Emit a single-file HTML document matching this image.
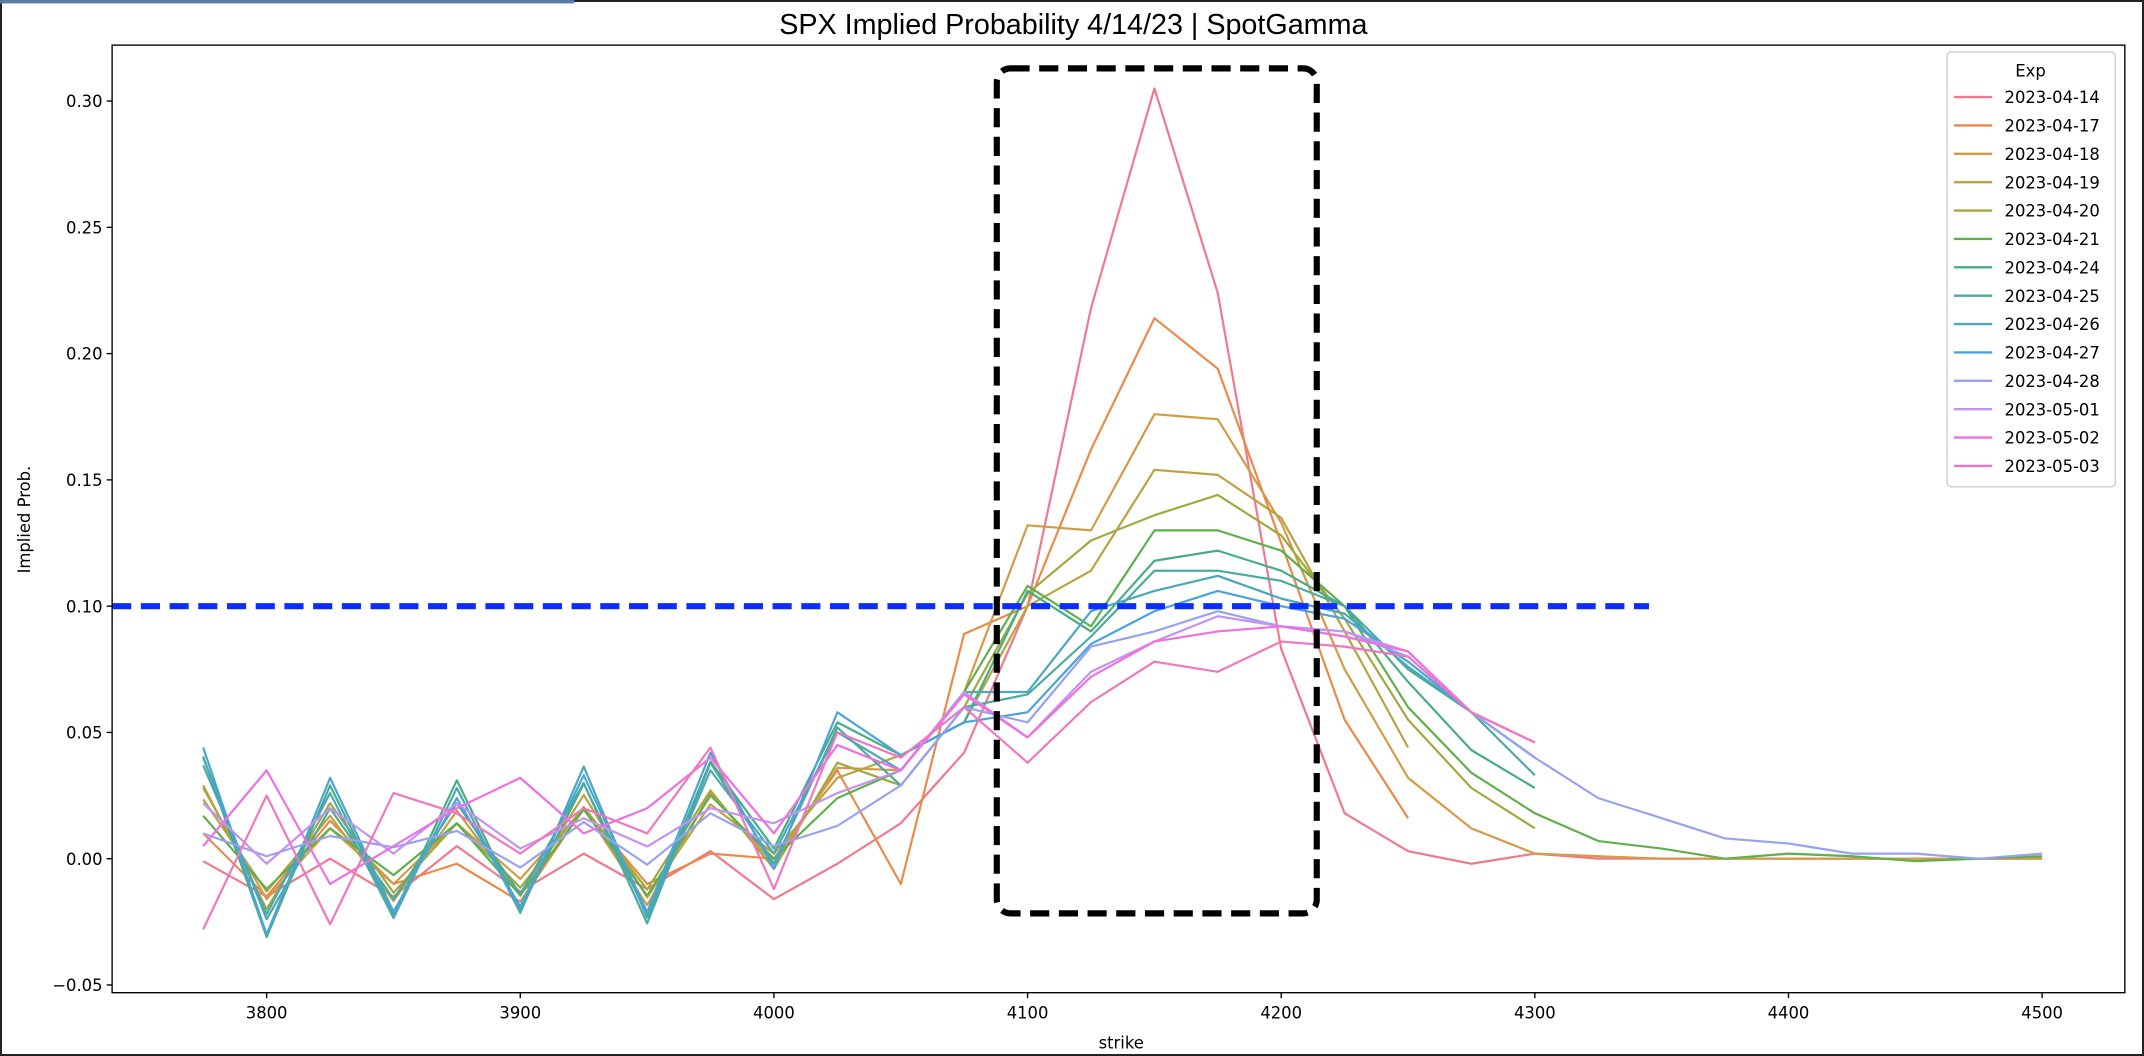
<!DOCTYPE html>
<html><head><meta charset="utf-8"><style>
html,body{margin:0;padding:0;background:#fff;}
svg{display:block;}
text{font-family:"DejaVu Sans","Liberation Sans",sans-serif;fill:#000;}
</style></head><body>
<svg id="s" width="2144" height="1056" viewBox="0 0 1568 772.3" preserveAspectRatio="none" xmlns="http://www.w3.org/2000/svg">
<rect x="0" y="0" width="1568" height="772.3" fill="#fff"/>
<rect x="0.7" y="0.7" width="1566.6" height="770.9" fill="none" stroke="#222" stroke-width="1.5"/>
<rect x="0" y="0" width="420" height="2.5" fill="#5a7aa6"/>
<text x="785" y="25" font-size="21" text-anchor="middle" style="font-family:'Liberation Sans',sans-serif">SPX Implied Probability 4/14/23 | SpotGamma</text>
<g id="ax"></g>
<g id="series" fill="none" stroke-width="1.6" stroke-linejoin="round"></g>
<line x1="82" y1="443.3" x2="1206" y2="443.3" stroke="#0a2eff" stroke-width="4.5" stroke-dasharray="14,7"/>
<rect x="729" y="50" width="234" height="618" rx="10" fill="none" stroke="#000" stroke-width="4.5" stroke-dasharray="14,7"/>
<rect x="82" y="33" width="1472" height="693" fill="none" stroke="#000" stroke-width="1"/>
<g id="leg"></g>
<text x="820" y="767" font-size="12" text-anchor="middle">strike</text>
<text x="22" y="380" font-size="12" text-anchor="middle" transform="rotate(-90 22 380)">Implied Prob.</text>
</svg>
<script>
var NS="http://www.w3.org/2000/svg";
function el(t,a,p,txt){var e=document.createElementNS(NS,t);for(var k in a)e.setAttribute(k,a[k]);if(txt!=null)e.textContent=txt;p.appendChild(e);return e;}
function X(s){return 195+(s-3800)*1.855;}
function Y(v){return 628-v*1847;}
var ax=document.getElementById('ax');
[3800,3900,4000,4100,4200,4300,4400,4500].forEach(function(s){var x=X(s);el('line',{x1:x,y1:726,x2:x,y2:730,stroke:'#000','stroke-width':1},ax);el('text',{x:x,y:745,'font-size':12,'text-anchor':'middle'},ax,String(s));});
[-0.05,0,0.05,0.1,0.15,0.2,0.25,0.3].forEach(function(v){var y=Y(v);el('line',{x1:78,y1:y,x2:82,y2:y,stroke:'#000','stroke-width':1},ax);el('text',{x:75,y:y+4.5,'font-size':12,'text-anchor':'end'},ax,(v<0?'\u22120.05':v.toFixed(2)));});
var strikes=[];for(var s=3775;s<=4500;s+=25)strikes.push(s);
var colors=['#f0798d','#e98a4b','#d49a45','#bba340','#a3a83e','#5eb04a','#47ae83','#4bab9c','#4aa8b8','#4ba3dc','#98a2f0','#c293f0','#ee70e2','#f077bf'];
var names=['2023-04-14','2023-04-17','2023-04-18','2023-04-19','2023-04-20','2023-04-21','2023-04-24','2023-04-25','2023-04-26','2023-04-27','2023-04-28','2023-05-01','2023-05-02','2023-05-03'];
var base=[0.03,-0.02,0.02,-0.015,0.02,-0.015,0.025,-0.018,0.03,0.0,0.04,0.035,0.06];
var amp=[0.5,0.6,0.8,0.85,0.9,0.7,1.35,1.2,1.3,1.4,0.3,0.4,0,0];
var off=[-0.012,-0.004,0,0,0,0,0,0,0,0,0.005,0.01,0,0];
var right=[
 [0.10,0.218,0.305,0.224,0.083,0.018,0.003,-0.002,0.002,0,0,0,0,0,0,0,0,0],
 [0.10,0.162,0.214,0.194,0.125,0.055,0.016],
 [0.132,0.130,0.176,0.174,0.133,0.075,0.032,0.012,0.002,0.001,0,0,0,0,0,0,0,0],
 [0.10,0.114,0.154,0.152,0.135,0.09,0.044],
 [0.105,0.126,0.136,0.144,0.128,0.095,0.055,0.028,0.012],
 [0.108,0.092,0.130,0.130,0.122,0.10,0.06,0.034,0.018,0.007,0.004,0,0.002,0.001,-0.001,0,0.001],
 [0.106,0.09,0.118,0.122,0.114,0.10,0.07,0.043,0.028],
 [0.065,0.088,0.114,0.114,0.11,0.10,0.075,0.058,0.033],
 [0.066,0.098,0.106,0.112,0.103,0.097,0.076,0.058,0.04],
 [0.058,0.085,0.098,0.106,0.10,0.095,0.078,0.058,0.04],
 [0.054,0.084,0.09,0.098,0.092,0.09,0.08,0.058,0.04,0.024,0.016,0.008,0.006,0.002,0.002,0,0.002],
 [0.048,0.074,0.086,0.096,0.092,0.09,0.082,0.058,0.046],
 [0.048,0.072,0.086,0.090,0.092,0.088,0.082,0.058,0.046],
 [0.038,0.062,0.078,0.074,0.086,0.084,0.08,0.058,0.046]];
var leftSpecial={
 0:[-0.001,-0.015,0.0,-0.015,0.005,-0.013,0.002,-0.012,0.003,-0.016,-0.002,0.014,0.042],
 1:[0.01,-0.015,0.015,-0.01,-0.002,-0.017,0.02,-0.01,0.002,0.0,0.035,-0.01,0.089],
 12:[0.005,0.035,-0.01,0.005,0.02,0.032,0.01,0.02,0.04,0.01,0.045,0.035,0.065],
 13:[-0.028,0.025,-0.026,0.026,0.018,0.002,0.02,0.01,0.044,-0.012,0.05,0.04,0.06]};
var g=document.getElementById('series');
for(var i=0;i<14;i++){
 var vals=leftSpecial[i]||base.map(function(b,k){var v=b*amp[i]+off[i]+((i*7+k*3)%5-2)*0.002;if(k>=11)v=b+((i+k)%3-1)*0.006;return v;});
 vals=vals.concat(right[i]);
 var d='';for(var k=0;k<vals.length&&k<strikes.length;k++){d+=(k?'L':'M')+X(strikes[k]).toFixed(1)+','+Y(vals[k]).toFixed(1);}
 el('path',{d:d,stroke:colors[i]},g);
}
var lg=document.getElementById('leg');
el('rect',{x:1424,y:38,width:123,height:318,rx:3,fill:'#fff','fill-opacity':0.85,stroke:'#ccc','stroke-width':1},lg);
el('text',{x:1485,y:56,'font-size':12,'text-anchor':'middle'},lg,'Exp');
for(var i=0;i<14;i++){var y=71+i*20.75;el('line',{x1:1429,y1:y,x2:1457,y2:y,stroke:colors[i],'stroke-width':1.8},lg);el('text',{x:1466,y:y+4.5,'font-size':12},lg,names[i]);}
</script>
</body></html>
